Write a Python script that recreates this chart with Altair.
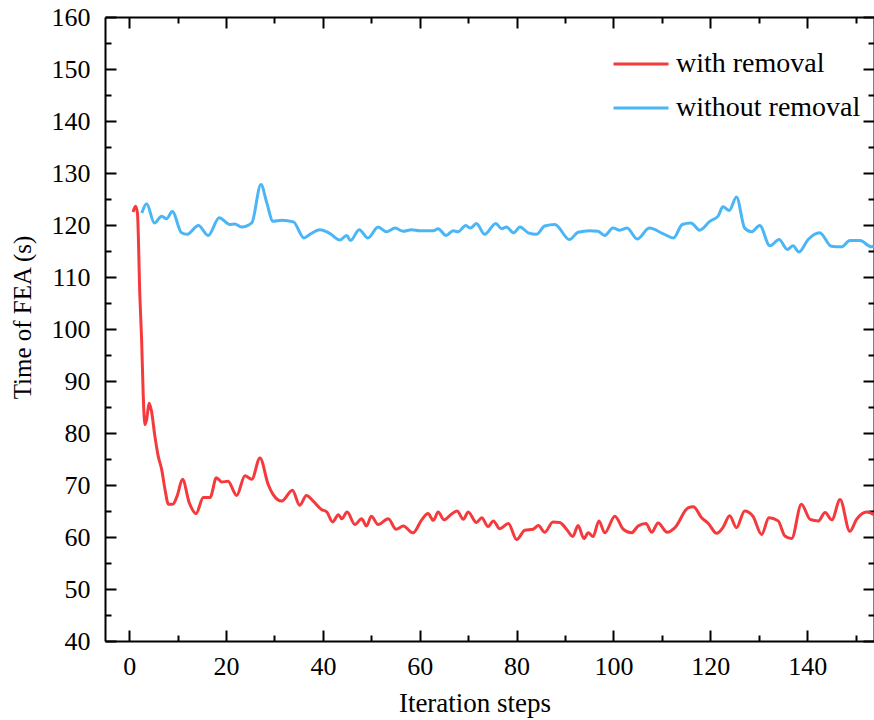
import altair as alt
import pandas as pd

# ---- data ----
series_names = ["with removal", "without removal"]
series_colors = ["#f43a3c", "#4ab6f7"]

red_x = [0.8, 1.3, 1.7, 2.2, 2.56, 2.9, 3.24, 3.6, 4.1, 4.6, 5.3, 6.0, 6.7, 7.4, 8.1, 9.0, 9.9,
         11.0, 12.4, 13.8, 15.3, 16.7, 18.0, 19.1, 20.4, 22.2, 23.9, 25.3, 27.0, 28.7, 29.7,
         31.5, 33.7, 35.2, 36.6, 38.0, 39.7, 40.8, 42.0, 43.2, 43.9, 45.0, 46.6, 48.0, 49.0,
         50.0, 51.4, 53.5, 55.1, 56.6, 58.6, 60.4, 61.7, 62.8, 63.8, 65.0, 66.4, 67.7, 69.0,
         70.0, 71.7, 72.8, 74.1, 75.2, 76.5, 78.3, 80.0, 81.7, 83.4, 84.5, 85.8, 87.5, 88.9,
         90.3, 91.6, 92.7, 93.9, 94.8, 95.8, 97.0, 98.2, 100.3, 102.0, 103.7, 105.1, 106.7,
         107.9, 109.2, 111.1, 112.7, 115.4, 116.5, 118.2, 119.6, 121.3, 122.6, 124.0, 125.4,
         127.1, 128.8, 130.6, 132.1, 134.0, 135.4, 136.8, 138.8, 140.6, 142.3, 143.7, 145.1,
         146.8, 148.8, 150.2, 152.3, 153.8]
red_y = [122.5, 123.6, 122.3, 106.3, 98.0, 87.1, 81.6, 82.6, 85.7, 84.2, 79.4, 75.5, 73.0, 69.1,
         66.3, 66.3, 67.9, 71.1, 66.6, 64.5, 67.6, 67.6, 71.4, 70.6, 70.7, 68.0, 71.8, 71.1,
         75.2, 70.1, 68.2, 66.9, 69.0, 66.1, 68.0, 66.9, 65.3, 64.8, 62.9, 64.3, 63.5, 64.8,
         62.4, 63.5, 62.1, 64.0, 62.4, 63.5, 61.5, 62.1, 60.8, 63.3, 64.5, 63.2, 64.8, 63.3,
         64.3, 65.0, 63.4, 64.8, 62.8, 63.7, 62.0, 63.1, 61.6, 62.6, 59.5, 61.3, 61.5, 62.2,
         60.9, 62.9, 62.8, 61.5, 60.1, 62.2, 59.7, 60.8, 60.1, 63.1, 60.8, 64.0, 61.5, 60.8,
         62.1, 62.6, 60.9, 62.7, 60.9, 61.8, 65.6, 65.8, 63.7, 62.6, 60.7, 61.8, 64.1, 61.8,
         65.0, 64.0, 60.5, 63.7, 63.1, 60.2, 59.7, 66.3, 63.4, 63.1, 64.7, 63.3, 67.2, 61.1,
         63.4, 64.8, 64.3]

blue_x = [2.6, 3.6, 5.2, 6.7, 7.7, 8.9, 10.8, 11.9, 14.3, 16.3, 18.6, 20.8, 21.8, 23.2, 25.3,
          27.2, 28.4, 29.7, 31.5, 33.9, 36.1, 37.3, 39.4, 41.4, 43.5, 44.9, 45.7, 47.5, 49.3,
          51.4, 53.1, 54.9, 56.6, 58.3, 60.0, 62.8, 63.8, 65.4, 66.9, 67.9, 69.5, 70.5, 71.7,
          73.4, 75.7, 76.9, 77.9, 79.4, 80.7, 82.4, 84.1, 85.8, 87.9, 90.9, 92.7, 95.1, 96.8,
          98.2, 99.9, 101.3, 102.8, 104.9, 107.4, 110.3, 112.4, 114.2, 116.0, 117.8, 119.9,
          121.6, 122.6, 123.9, 125.4, 127.1, 128.5, 130.2, 132.3, 134.2, 135.9, 137.1, 138.3,
          140.2, 142.6, 145.0, 147.1, 148.8, 150.9, 153.3, 153.8]
blue_y = [122.3, 124.1, 120.4, 121.7, 121.2, 122.6, 118.5, 118.2, 119.9, 118.0, 121.4, 120.1,
          120.2, 119.6, 120.4, 127.8, 124.3, 120.7, 120.9, 120.6, 117.5, 118.2, 119.1, 118.4,
          117.1, 118.0, 117.0, 119.1, 117.5, 119.6, 118.7, 119.4, 118.8, 119.1, 118.9, 118.9,
          119.3, 118.0, 118.9, 118.7, 119.9, 119.4, 120.3, 118.2, 120.3, 119.3, 119.6, 118.5,
          119.6, 118.5, 118.2, 119.8, 120.1, 117.2, 118.6, 118.9, 118.8, 118.0, 119.4, 119.0,
          119.4, 117.3, 119.4, 118.3, 117.5, 120.1, 120.4, 119.0, 120.7, 121.7, 123.5, 122.8,
          125.4, 119.4, 118.7, 119.9, 116.0, 117.2, 115.3, 116.0, 114.8, 117.2, 118.5, 115.9,
          115.8, 117.0, 117.0, 115.8, 116.0]

x_major = [0, 20, 40, 60, 80, 100, 120, 140]
x_minor = [10, 30, 50, 70, 90, 110, 130, 150]
y_major = [40, 50, 60, 70, 80, 90, 100, 110, 120, 130, 140, 150, 160]
y_minor = [45, 55, 65, 75, 85, 95, 105, 115, 125, 135, 145, 155]

df = pd.concat([
    pd.DataFrame({"step": red_x, "time": red_y, "series": series_names[0]}),
    pd.DataFrame({"step": blue_x, "time": blue_y, "series": series_names[1]}),
], ignore_index=True)

FONT = "Liberation Serif"
xs = alt.Scale(domain=[-5, 153.8], nice=False, zero=False)
ys = alt.Scale(domain=[40, 160], nice=False, zero=False)

lines = alt.Chart(df).mark_line(strokeWidth=3, interpolate="monotone").encode(
    x=alt.X("step:Q", scale=xs, axis=alt.Axis(
        orient="bottom", values=x_major, ticks=False, tickSize=0, grid=False,
        domain=True, domainColor="black", domainWidth=2,
        labelFont=FONT, labelFontSize=26, labelColor="black", labelPadding=12,
        title="Iteration steps", titleFont=FONT, titleFontSize=27, titleFontWeight="normal",
        titleColor="black", titleX=369.5, titleY=70, titleBaseline="alphabetic",
        titleAlign="center")),
    y=alt.Y("time:Q", scale=ys, axis=alt.Axis(
        orient="left", values=y_major, ticks=False, tickSize=0, grid=False,
        domain=True, domainColor="black", domainWidth=2,
        labelFont=FONT, labelFontSize=26, labelColor="black", labelPadding=15,
        title="Time of FEA (s)", titleFont=FONT, titleFontSize=25, titleFontWeight="normal",
        titleColor="black", titleX=-83, titleY=300, titleBaseline="middle",
        titleAlign="center")),
    color=alt.Color("series:N", scale=alt.Scale(domain=series_names, range=series_colors),
                    legend=alt.Legend(orient="none", legendX=507, legendY=18, title=None,
                                      symbolType="stroke", symbolSize=3025,
                                      symbolStrokeWidth=3, labelFont=FONT, labelFontSize=28,
                                      labelColor="black", labelOffset=6, labelLimit=400,
                                      padding=0, rowPadding=1)),
)


def tick_layer(xvals, yvals, size, xorient, yorient):
    common = dict(domain=False, labels=False, ticks=True, tickSize=size, tickWidth=2,
                  tickColor="black", offset=-size, grid=False, title=None)
    return alt.Chart(df).mark_line(strokeOpacity=0).encode(
        x=alt.X("step:Q", scale=xs, axis=alt.Axis(orient=xorient, values=xvals, **common)),
        y=alt.Y("time:Q", scale=ys, axis=alt.Axis(orient=yorient, values=yvals, **common)),
    )


frame = alt.Chart(df).mark_line(strokeOpacity=0).encode(
    x=alt.X("step:Q", scale=xs, axis=alt.Axis(orient="top", domain=True, domainColor="black",
                                              domainWidth=2, ticks=False, labels=False,
                                              grid=False, title=None)),
    y=alt.Y("time:Q", scale=ys, axis=alt.Axis(orient="right", domain=True, domainColor="black",
                                              domainWidth=2, ticks=False, labels=False,
                                              grid=False, title=None)),
)

chart = alt.layer(
    lines,
    tick_layer(x_major, y_major, 11, "bottom", "left"),
    tick_layer(x_minor, y_minor, 6, "bottom", "left"),
    tick_layer(x_major, y_major, 11, "top", "right"),
    tick_layer(x_minor, y_minor, 6, "top", "right"),
    frame,
).resolve_axis(x="independent", y="independent").properties(
    width=769, height=624,
    padding={"left": 105, "top": 17, "right": 0, "bottom": 79},
    autosize=alt.AutoSizeParams(type="none"),
    background="white",
).configure_view(stroke=None).configure_axis(
    labelFont=FONT, titleFont=FONT
).configure_legend(labelFont=FONT)

chart.save("out.html", embed_options={"renderer": "svg", "actions": False})
